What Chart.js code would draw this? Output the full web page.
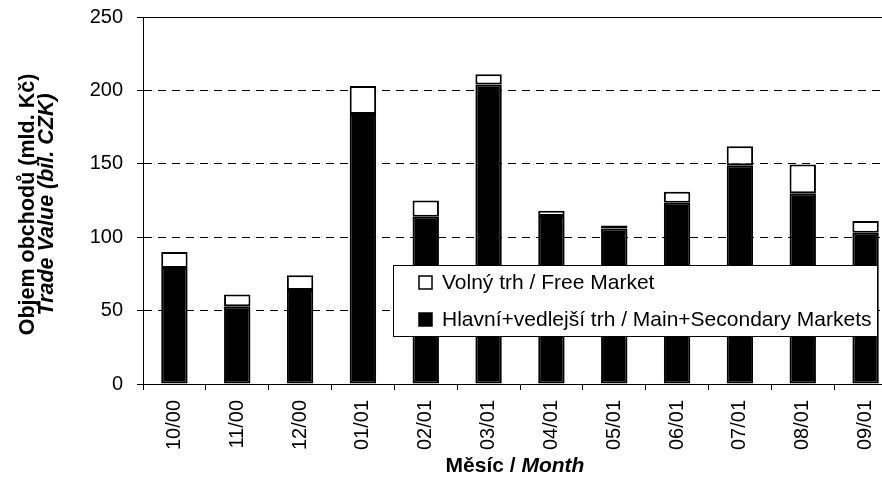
<!DOCTYPE html>
<html>
<head>
<meta charset="utf-8">
<script src="https://cdn.jsdelivr.net/npm/chart.js@4.4.0/dist/chart.umd.min.js"></script>
<style>
  html, body { margin: 0; padding: 0; background: #fff; overflow: hidden; }
  #wrap { width: 900px; height: 481px; }
</style>
</head>
<body>
<div id="wrap"><canvas id="chart" width="900" height="481"></canvas></div>
<script>
const months = ["10/00", "11/00", "12/00", "01/01", "02/01", "03/01", "04/01", "05/01", "06/01", "07/01", "08/01", "09/01"];
const mainMarkets = [79, 53, 64, 184, 114, 204, 114.5, 106, 123.5, 149, 130, 103];
const freeMarket = [11, 8, 10, 19, 11, 7, 3.5, 2, 7.5, 13, 19.5, 8];
const yMin = 0, yMax = 250, yStep = 50;

const FONT = "'Liberation Sans', Arial, sans-serif";

// frame line, legend box and the two mixed-style axis titles
const extras = {
  id: "extras",
  afterDraw(chart) {
    const { ctx, chartArea } = chart;
    ctx.save();

    // solid top edge of plot area
    const ty = Math.round(chartArea.top) + 0.5;
    ctx.strokeStyle = "#000";
    ctx.lineWidth = 1;
    ctx.beginPath();
    ctx.moveTo(chartArea.left, ty);
    ctx.lineTo(chartArea.right, ty);
    ctx.stroke();

    // legend
    const lx = 393, ly = 265, lw = 484, lh = 71;
    ctx.fillStyle = "#fff";
    ctx.fillRect(lx, ly, lw, lh);
    ctx.strokeRect(lx + 0.5, ly + 0.5, lw, lh);
    ctx.font = "21px " + FONT;
    ctx.textBaseline = "middle";
    const items = chart.data.datasets.slice().reverse();
    items.forEach((ds, i) => {
      const cy = ly + 18 + i * 37;
      ctx.fillStyle = ds.backgroundColor;
      ctx.fillRect(419, cy - 7, 13, 13);
      ctx.lineWidth = 1.5;
      ctx.strokeStyle = "#000";
      ctx.strokeRect(419, cy - 7, 13, 13);
      ctx.fillStyle = "#000";
      ctx.textAlign = "left";
      ctx.fillText(ds.label, 442, cy);
    });

    // y axis title (two lines)
    const cyMid = (chartArea.top + chartArea.bottom) / 2 + 4;
    ctx.fillStyle = "#000";
    ctx.textAlign = "center";
    ctx.save();
    ctx.translate(28, cyMid);
    ctx.rotate(-Math.PI / 2);
    ctx.font = "bold 21.5px " + FONT;
    ctx.fillText("Objem obchodů (mld. Kč)", 0, 0);
    ctx.restore();
    ctx.save();
    ctx.translate(47, cyMid);
    ctx.rotate(-Math.PI / 2);
    ctx.font = "italic bold 21.5px " + FONT;
    ctx.fillText("Trade Value (bil. CZK)", 0, 0);
    ctx.restore();

    // x axis title
    const part1 = "Měsíc / ", part2 = "Month";
    ctx.font = "bold 21px " + FONT;
    const w1 = ctx.measureText(part1).width;
    ctx.font = "italic bold 21px " + FONT;
    const w2 = ctx.measureText(part2).width;
    let sx = 515 - (w1 + w2) / 2;
    ctx.textAlign = "left";
    ctx.font = "bold 21px " + FONT;
    ctx.fillText(part1, sx, 466);
    ctx.font = "italic bold 21px " + FONT;
    ctx.fillText(part2, sx + w1, 466);

    ctx.restore();
  }
};

new Chart(document.getElementById("chart"), {
  type: "bar",
  data: {
    labels: months,
    datasets: [
      {
        label: "Hlavní+vedlejší trh / Main+Secondary Markets",
        data: mainMarkets,
        backgroundColor: "#000",
        borderColor: "#000",
        borderWidth: 2,
        borderSkipped: false,
        barPercentage: 0.42,
        categoryPercentage: 1
      },
      {
        label: "Volný trh / Free Market",
        data: freeMarket,
        backgroundColor: "#fff",
        borderColor: "#000",
        borderWidth: 2,
        borderSkipped: false,
        barPercentage: 0.42,
        categoryPercentage: 1
      }
    ]
  },
  options: {
    responsive: false,
    animation: false,
    layout: { padding: { left: 60, top: 17, right: 3, bottom: 0 } },
    plugins: {
      legend: { display: false },
      tooltip: { enabled: false }
    },
    scales: {
      x: {
        stacked: true,
        grid: { drawOnChartArea: false, offset: true, tickLength: 6, tickColor: "#000" },
        border: { color: "#000", width: 1 },
        ticks: {
          minRotation: 90,
          maxRotation: 90,
          autoSkip: false,
          padding: 10,
          color: "#000",
          font: { family: FONT, size: 20 }
        },
        afterFit: (s) => { s.height = 97; }
      },
      y: {
        stacked: true,
        min: yMin,
        max: yMax,
        grid: {
          color: (c) => (c.tick && c.tick.value === 0 ? "rgba(0,0,0,0)" : "#000"),
          tickColor: "#000",
          tickLength: 6,
          lineWidth: 1
        },
        border: { color: "#000", width: 1, dash: [8, 6] },
        ticks: {
          stepSize: yStep,
          padding: 14,
          color: "#000",
          font: { family: FONT, size: 20 }
        },
        afterFit: (s) => {
          s.width = 83;
          s.paddingTop = 0;
          s.paddingBottom = 0;
        }
      }
    }
  },
  plugins: [extras]
});
</script>
</body>
</html>
